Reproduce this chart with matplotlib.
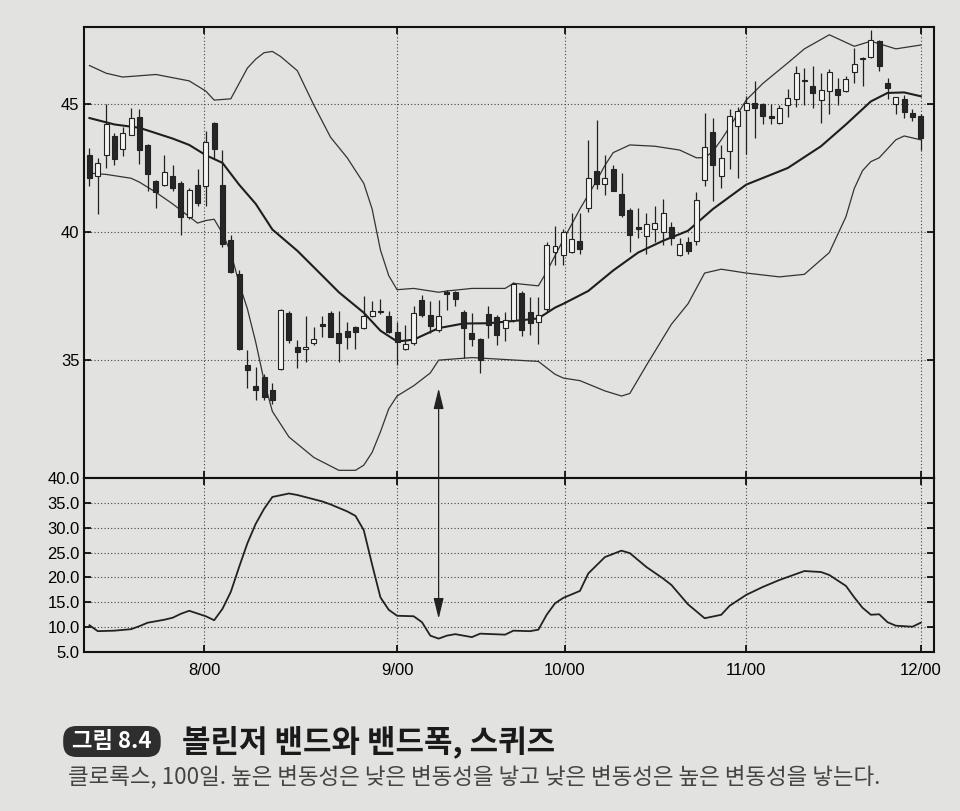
import numpy as np
import matplotlib.pyplot as plt
from matplotlib.patches import ConnectionPatch

# daily candles, 101 trading days (index 0 = mid July 2000)
opens = [43.0, 42.2, 43.0, 43.75, 43.25, 43.8, 44.5, 43.4, 42.0, 41.85,
         42.2, 41.9, 40.6, 41.85, 41.8, 44.25, 41.85, 39.7, 38.35, 34.8,
         34.0, 34.35, 33.85, 34.65, 36.85, 35.5, 35.45, 35.65, 36.4, 36.84,
         36.07, 36.13, 36.31, 36.25, 36.72, 36.88, 36.72, 36.1, 35.45, 35.65,
         37.33, 36.78, 36.16, 37.66, 37.65, 36.88, 36.06, 35.81, 36.79, 36.69,
         36.25, 36.56, 37.64, 36.88, 36.5, 37.0, 39.22, 39.09, 39.22, 39.66,
         40.93, 42.4, 41.86, 42.46, 41.47, 40.88, 40.18, 39.86, 40.12, 40.0,
         40.19, 39.09, 39.6, 39.65, 42.03, 43.9, 42.2, 43.17, 44.14, 44.76,
         45.05, 45.0, 44.54, 44.24, 44.97, 45.18, 45.88, 45.72, 45.17, 45.52,
         45.6, 45.5, 46.26, 46.75, 46.84, 47.46, 45.83, 45.0, 45.2, 44.65,
         44.54]
highs = [43.3, 42.9, 45.0, 43.85, 44.1, 44.85, 44.8, 43.45, 42.05, 43.0,
         42.6, 42.0, 41.7, 42.45, 43.95, 44.3, 43.2, 39.9, 38.5, 35.4,
         34.75, 34.45, 34.1, 37.0, 36.9, 35.77, 36.74, 36.3, 36.72, 36.9,
         36.92, 36.47, 36.35, 37.49, 37.29, 37.39, 36.9, 36.47, 36.39, 37.12,
         37.54, 37.29, 37.33, 37.73, 37.7, 36.95, 36.84, 35.85, 37.13, 36.75,
         36.88, 38.05, 37.7, 37.47, 37.47, 39.6, 40.23, 40.1, 40.74, 40.76,
         43.58, 44.39, 43.0, 42.6, 42.3, 40.95, 40.92, 40.74, 41.0, 41.3,
         40.4, 39.77, 39.8, 41.55, 44.66, 44.45, 43.4, 44.8, 44.9, 45.3,
         45.9, 45.05, 45.0, 44.95, 45.6, 46.5, 46.4, 46.47, 46.2, 46.35,
         46.0, 46.1, 47.2, 46.85, 47.9, 47.5, 46.0, 45.29, 45.35, 44.8,
         44.6]
lows = [41.8, 40.7, 42.5, 42.6, 42.95, 43.8, 42.65, 41.6, 40.95, 41.8,
        41.6, 39.9, 40.5, 41.0, 41.0, 42.85, 39.4, 38.4, 35.4, 33.9,
        33.45, 33.45, 33.3, 34.6, 35.65, 34.7, 34.94, 35.6, 35.92, 35.9,
        34.94, 35.43, 35.45, 36.2, 36.7, 36.82, 36.05, 34.82, 35.4, 35.6,
        36.7, 36.07, 36.1, 36.96, 37.1, 35.08, 35.55, 34.48, 35.87, 35.58,
        35.75, 36.5, 35.95, 36.0, 35.62, 36.88, 38.71, 38.7, 39.2, 39.14,
        40.78, 41.67, 41.45, 41.6, 40.6, 39.22, 39.78, 39.16, 39.6, 39.5,
        39.5, 39.05, 39.15, 39.5, 41.8, 41.22, 41.7, 42.45, 42.11, 43.05,
        43.68, 44.2, 44.2, 44.2, 44.5, 44.9, 44.97, 44.84, 44.27, 44.62,
        44.95, 45.45, 45.8, 45.7, 46.8, 46.3, 45.2, 44.6, 44.47, 44.35,
        43.2]
closes = [42.1, 42.7, 44.2, 42.85, 43.85, 44.45, 43.2, 42.25, 41.55, 42.35,
          41.7, 40.6, 41.65, 41.15, 43.5, 43.25, 39.55, 38.45, 35.45, 34.6,
          33.85, 33.55, 33.45, 36.95, 35.8, 35.3, 35.5, 35.82, 36.32, 35.92,
          35.65, 35.92, 36.1, 36.72, 36.92, 36.92, 36.1, 35.7, 35.64, 36.84,
          36.75, 36.32, 36.72, 37.57, 37.4, 36.25, 35.81, 34.99, 36.38, 36.0,
          36.56, 37.99, 36.19, 36.44, 36.75, 39.5, 39.47, 40.0, 39.72, 39.34,
          42.11, 41.89, 42.11, 41.62, 40.65, 39.9, 40.12, 40.3, 40.34, 40.74,
          39.77, 39.53, 39.25, 41.25, 43.32, 42.6, 42.9, 44.53, 44.73, 45.03,
          44.83, 44.52, 44.47, 44.86, 45.23, 46.2, 45.92, 45.43, 45.55, 46.25,
          45.34, 45.99, 46.55, 46.8, 47.5, 46.48, 45.61, 45.29, 44.7, 44.5,
          43.66]

# bollinger bands at these days
upper_days = [0, 2, 4, 8, 12, 14, 15, 17, 18, 19, 20, 21, 22, 23, 25, 27, 29, 31,
              33, 34, 35, 36, 37, 39, 42, 43, 46, 50, 51, 54, 55, 57, 59, 61, 62,
              63, 65, 68, 71, 73, 74, 75, 76, 77, 79, 81, 84, 86, 89, 91, 92, 94,
              97, 100]
upper_vals = [46.5, 46.2, 46.05, 46.15, 45.9, 45.5, 45.15, 45.2, 45.8, 46.4, 46.75,
              47.0, 47.05, 46.85, 46.3, 44.95, 43.7, 42.9, 41.9, 40.9, 39.3, 38.3,
              37.75, 37.8, 37.65, 37.7, 37.8, 37.8, 38.0, 37.9, 38.45, 39.7, 40.9,
              42.0, 42.6, 43.1, 43.4, 43.35, 43.2, 42.9, 42.9, 43.15, 43.6, 44.1,
              45.15, 45.8, 46.6, 47.15, 47.7, 47.4, 47.25, 47.45, 47.15, 47.3]

mid_days = [0, 3, 6, 10, 12, 14, 16, 18, 20, 22, 25, 28, 30, 33, 35, 37, 39, 42,
            45, 48, 52, 54, 56, 57, 60, 63, 66, 69, 72, 75, 79, 84, 88, 91, 94,
            96, 98, 100]
mid_vals = [44.45, 44.2, 44.07, 43.65, 43.4, 43.0, 42.7, 41.85, 41.1, 40.1, 39.27,
            38.3, 37.65, 36.85, 36.15, 35.73, 35.8, 36.25, 36.43, 36.44, 36.56,
            36.63, 37.05, 37.2, 37.7, 38.5, 39.2, 39.66, 40.05, 40.9, 41.85, 42.5,
            43.35, 44.2, 45.1, 45.43, 45.45, 45.3]

lower_days = [0, 2, 5, 6, 8, 10, 12, 13, 14, 15, 16, 17, 18, 19, 20, 21, 22, 24,
              27, 30, 32, 33, 34, 35, 36, 37, 39, 41, 42, 46, 54, 56, 57, 59, 62,
              64, 65, 67, 70, 72, 74, 76, 79, 83, 86, 89, 90, 91, 92, 93, 94, 95,
              97, 98, 100]
lower_vals = [42.3, 42.25, 42.1, 41.95, 41.55, 41.1, 40.6, 40.35, 40.45, 40.5,
              39.95, 39.2, 38.0, 37.0, 35.7, 34.2, 33.0, 32.0, 31.2, 30.7, 30.7,
              30.9, 31.4, 32.2, 33.1, 33.6, 34.0, 34.5, 35.0, 35.1, 34.95, 34.45,
              34.3, 34.2, 33.8, 33.6, 33.7, 34.8, 36.4, 37.2, 38.4, 38.55, 38.4,
              38.25, 38.35, 39.2, 39.9, 40.6, 41.7, 42.4, 42.75, 42.9, 43.6,
              43.75, 43.6]

# band width
bw_days = [0, 1, 3, 5, 6, 7, 9, 10, 11, 12, 14, 15, 16, 17, 18, 19, 20, 21, 22,
           24, 25, 28, 29, 31, 32, 33, 34, 35, 36, 37, 39, 40, 41, 42, 43, 44,
           46, 47, 50, 51, 53, 54, 55, 56, 57, 59, 60, 62, 64, 65, 67, 69, 70,
           72, 74, 76, 77, 79, 81, 83, 86, 88, 89, 91, 92, 93, 94, 95, 96, 97,
           99, 100]
bw_vals = [10.4, 9.2, 9.3, 9.6, 10.2, 10.9, 11.5, 11.9, 12.7, 13.3, 12.2, 11.4,
           13.7, 17.1, 22.1, 26.9, 30.8, 33.8, 36.2, 36.9, 36.6, 35.3, 34.7, 33.3,
           32.4, 29.5, 22.6, 16.0, 13.5, 12.3, 12.2, 11.0, 8.3, 7.7, 8.3, 8.6,
           8.0, 8.7, 8.5, 9.3, 9.2, 9.5, 12.5, 14.8, 15.9, 17.3, 20.8, 24.1,
           25.4, 24.9, 22.1, 19.8, 18.5, 14.6, 11.8, 12.5, 14.3, 16.5, 18.1,
           19.5, 21.3, 21.1, 20.5, 18.3, 16.0, 13.9, 12.5, 12.6, 11.0, 10.3,
           10.1, 10.9]

month_pos = [13.8, 37, 57.2, 79, 100]
month_labels = ['8/00', '9/00', '10/00', '11/00', '12/00']
price_ticks = [35, 40, 45]
bw_ticks = [5, 10, 15, 20, 25, 30, 35, 40]

plt.rcParams['font.family'] = ['Liberation Sans', 'DejaVu Sans']
bg = '#e2e2e0'
ink = '#222222'
kr = ['Noto Sans CJK KR', 'DejaVu Sans']

fig = plt.figure(figsize=(9.6, 8.11), dpi=100, facecolor=bg)
ax1 = fig.add_axes([0.088, 0.4106, 0.885, 0.556], facecolor=bg)
ax2 = fig.add_axes([0.088, 0.196, 0.885, 0.2145], facecolor=bg, sharex=ax1)

o = np.array(opens)
h = np.array(highs)
l = np.array(lows)
c = np.array(closes)
x = np.arange(len(o))
up = c >= o

# candles
ax1.vlines(x, l, h, color=ink, lw=0.9, zorder=3)
body = np.maximum(np.abs(c - o), 0.05)
ax1.bar(x, body, bottom=np.minimum(o, c), width=0.6,
        color=np.where(up, '#f4f4f2', '#262626'), edgecolor=ink,
        linewidth=0.8, zorder=4)

# bands
ax1.plot(upper_days, upper_vals, color='#333333', lw=0.9, zorder=2)
ax1.plot(mid_days, mid_vals, color='#1e1e1e', lw=1.5, zorder=2)
ax1.plot(lower_days, lower_vals, color='#333333', lw=0.9, zorder=2)

ax1.set_xlim(-0.6, 101.6)
ax1.set_ylim(30.4, 48.0)
ax1.set_yticks(price_ticks)
ax1.set_xticks(month_pos)
ax1.tick_params(axis='both', direction='in', length=5, width=1.2,
                top=True, right=True, labelbottom=False, labelsize=12)
ax1.grid(True, linestyle=(0, (1, 2)), color='#444444', lw=0.8)

# band width panel
ax2.plot(bw_days, bw_vals, color=ink, lw=1.3)
ax2.set_ylim(5, 40)
ax2.set_yticks(bw_ticks)
ax2.set_yticklabels(['%.1f' % v for v in bw_ticks])
ax2.set_xticks(month_pos)
ax2.set_xticklabels(month_labels)
ax2.tick_params(axis='both', direction='in', length=5, width=1.2,
                top=True, right=True, labelsize=12)
ax2.tick_params(axis='x', pad=8)
ax2.grid(True, linestyle=(0, (1, 2)), color='#444444', lw=0.8)

for ax in (ax1, ax2):
    for s in ax.spines.values():
        s.set_linewidth(1.5)
        s.set_color('#111111')

# squeeze arrow across both panels
arrow = ConnectionPatch(xyA=(42, 33.9), coordsA=ax1.transData,
                        xyB=(42, 11.7), coordsB=ax2.transData,
                        arrowstyle='<|-|>,head_length=0.9,head_width=0.22',
                        color=ink, lw=0.9, mutation_scale=14,
                        shrinkA=0, shrinkB=0, zorder=10)
fig.add_artist(arrow)

# caption
fig.text(0.07, 0.0857, ' 그림 8.4 ', family=kr, fontsize=16, fontweight='bold',
         color='white', va='center',
         bbox=dict(boxstyle='round,pad=0.18,rounding_size=0.6', fc='#2e2e2e', ec='none'))
fig.text(0.19, 0.0857, '볼린저 밴드와 밴드폭, 스퀴즈', family=kr, fontsize=22.3,
         fontweight='bold', color='#1a1a1a', va='center')
fig.text(0.071, 0.042,
         '클로록스, 100일. 높은 변동성은 낮은 변동성을 낳고 낮은 변동성은 높은 변동성을 낳는다.',
         family=kr, fontsize=16.2, color='#444444', va='center')

fig.savefig('out.png', dpi=100, facecolor=bg)
